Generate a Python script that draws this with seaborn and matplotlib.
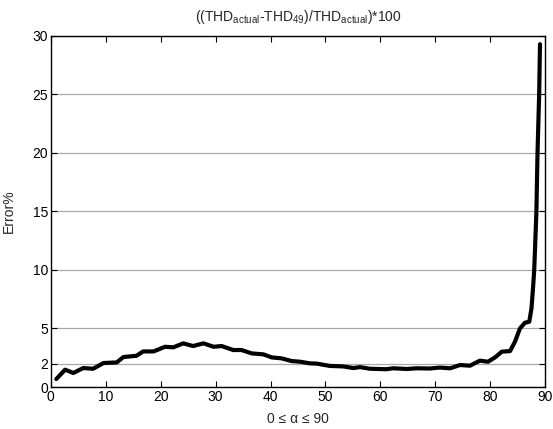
import matplotlib
matplotlib.use("Agg")
import matplotlib.pyplot as plt
import seaborn as sns
import pandas as pd

# data
alpha = [1, 2.6, 4.1, 5.9, 7.7, 9.6, 12, 13.2, 15.6, 16.8, 18.7, 20.8, 22.3,
         24.1, 25.9, 27.8, 29.6, 31.1, 33.2, 34.7, 36.6, 38.7, 40.2, 42, 43.8,
         45.4, 47.2, 48.4, 50.8, 53.2, 55.1, 56.3, 58.1, 61.1, 62.3, 64.8,
         66.6, 69, 70.8, 72.7, 74.5, 76.3, 78.1, 79.6, 80.9, 82.1, 83.6, 84.5,
         85.4, 86.3, 87.1, 87.5, 87.8, 88.0, 88.4, 88.6, 88.9, 89.05]
error_pct = [0.68, 1.48, 1.2, 1.62, 1.56, 2.05, 2.1, 2.56, 2.67, 3.04, 3.04,
             3.44, 3.39, 3.73, 3.5, 3.73, 3.44, 3.5, 3.16, 3.16, 2.87, 2.79,
             2.53, 2.45, 2.22, 2.16, 2.02, 2.0, 1.8, 1.76, 1.62, 1.7, 1.56,
             1.52, 1.6, 1.54, 1.6, 1.58, 1.66, 1.6, 1.88, 1.82, 2.25, 2.16,
             2.54, 3.02, 3.07, 3.87, 5.0, 5.49, 5.58, 6.72, 8.57, 10.0, 15.0,
             20.0, 25.0, 29.3]
xticks = [0, 10, 20, 30, 40, 50, 60, 70, 80, 90]
yticks = [0, 2, 5, 10, 15, 20, 25, 30]

sns.set_theme(style="white")
plt.rcParams['font.family'] = ['Liberation Sans', 'DejaVu Sans']
plt.rcParams['mathtext.fontset'] = 'custom'
plt.rcParams['mathtext.rm'] = 'Liberation Sans'
plt.rcParams['mathtext.it'] = 'Liberation Sans:italic'

fig = plt.figure(figsize=(5.53, 4.29), dpi=100)
ax = fig.add_axes([0.0919, 0.0979, 0.8940, 0.8182])

df = pd.DataFrame({"alpha": alpha, "err": error_pct})
sns.lineplot(data=df, x="alpha", y="err", ax=ax, color="black",
             linewidth=3.0, sort=False, estimator=None)

ax.set_xlim(0, 90)
ax.set_ylim(0, 30)
ax.set_xticks(xticks)
ax.set_yticks(yticks)
ax.yaxis.grid(True, color="#a8a8a8", linewidth=0.9)
ax.xaxis.grid(False)
ax.set_axisbelow(True)

for s in ax.spines.values():
    s.set_color("black")
    s.set_linewidth(1.0)
    s.set_visible(True)

ax.tick_params(axis="both", direction="in", length=4, width=0.8,
               colors="black", labelsize=10, top=True, right=True,
               bottom=True, left=True, pad=2)

ax.set_xlabel("0 \u2264 \u03b1 \u2264 90", fontsize=10, labelpad=6)
ax.set_ylabel("Error%", fontsize=10, labelpad=12)
ax.set_title(r"((THD$_{\mathrm{actual}}$-THD$_{\mathrm{49}}$)/THD$_{\mathrm{actual}}$)*100",
             fontsize=10, pad=11)

fig.savefig("out.png", dpi=100)
